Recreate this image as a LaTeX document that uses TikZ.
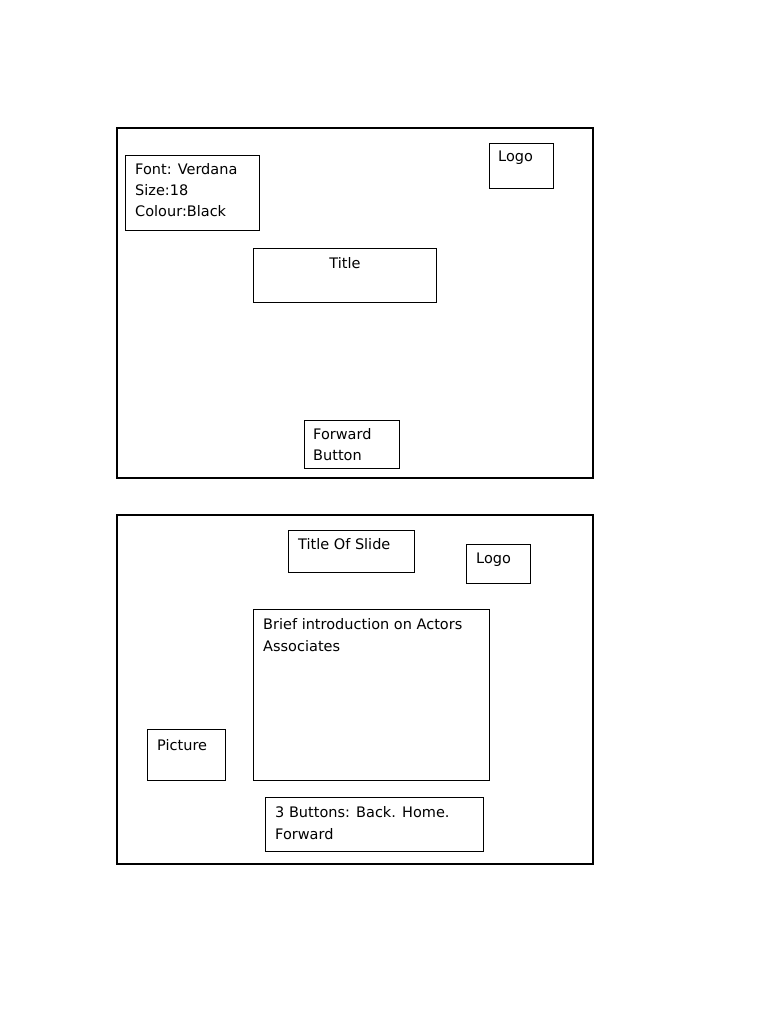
\documentclass[tikz,border=0pt]{standalone}
\usepackage{fontspec}
\setmainfont{DejaVu Sans}
\begin{document}
\begin{tikzpicture}[x=1pt,y=-1pt,
  outer/.style={draw,line width=2pt},
  box/.style={draw,line width=0.8pt},
  lbl/.style={anchor=west,inner sep=0pt,font=\fontsize{14.5}{21}\selectfont,align=left}]
\useasboundingbox (0,0) rectangle (768,1024);
\draw[outer] (117,128) rectangle (593,478);
\draw[box] (125,155) rectangle (259,230);
\node[lbl] (f1) at (135,169) {Font: Verdana};
\node[lbl] (f2) at (135,190) {Size:18};
\node[lbl] (f3) at (135,211) {Colour:Black};
\draw[box] (489,143) rectangle (553,188);
\node[lbl] (l1) at (498,158) {Logo};
\draw[box] (253,248) rectangle (436,302);
\node[lbl,anchor=center] (t1) at (345,263) {Title};
\draw[box] (304,420) rectangle (399,468);
\node[lbl] (fw1) at (313,434) {Forward};
\node[lbl] (fw2) at (313,455) {Button};
\draw[outer] (117,515) rectangle (593,864);
\draw[box] (288,530) rectangle (414,572);
\node[lbl] (ts) at (298,544) {Title Of Slide};
\draw[box] (466,544) rectangle (530,583);
\node[lbl] (l2) at (476,560) {Logo};
\draw[box] (253,609) rectangle (489,780);
\node[lbl] (b1) at (263,624) {Brief introduction on Actors};
\node[lbl] (b2) at (263,646) {Associates};
\draw[box] (147,729) rectangle (225,780);
\node[lbl] (p) at (157,745) {Picture};
\draw[box] (265,797) rectangle (483,851);
\node[lbl] (bt1) at (275,812) {3 Buttons: Back. Home.};
\node[lbl] (bt2) at (275,834) {Forward};
\end{tikzpicture}
\end{document}
